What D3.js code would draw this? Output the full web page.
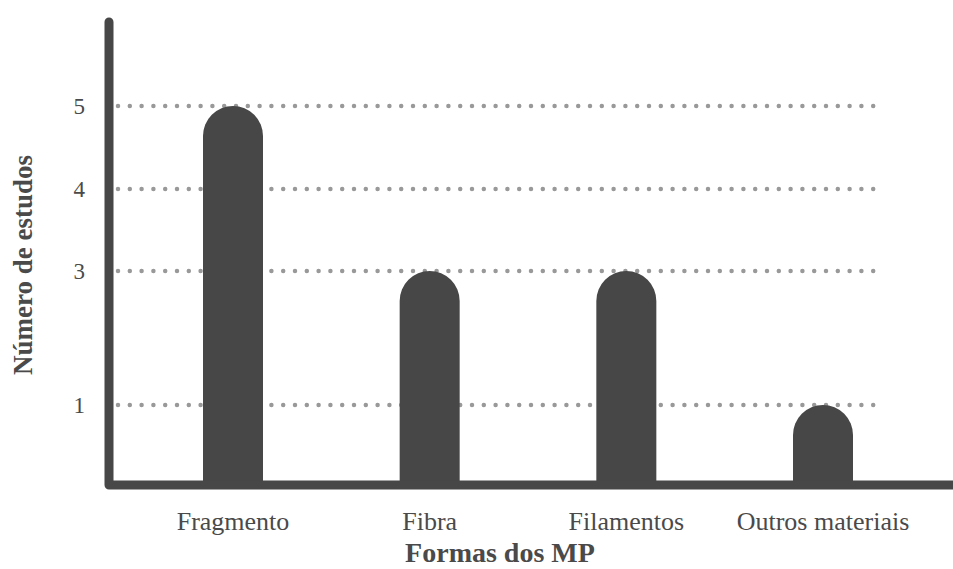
<!DOCTYPE html>
<html>
<head>
<meta charset="utf-8">
<script src="https://cdn.jsdelivr.net/npm/d3@7"></script>
<style>
  body { margin: 0; background: #fff; }
  text { font-family: "Liberation Serif", "Times New Roman", serif; fill: #4a4a4a; }
</style>
</head>
<body>
<div id="canvas"></div>
<script>
"use strict"

/* Chart data */
let categories = ["Fragmento", "Fibra", "Filamentos", "Outros materiais"];
let counts = [5, 3, 3, 1];
let tickValues = [1, 3, 4, 5];

/* Canvas size */
let svgWidth = 953;
let svgHeight = 569;

let barColor = "#474747";
let barWidth = 60;
let baseY = 485;

let svg = d3.select("#canvas")
    .append("svg")
    .attr("width", svgWidth)
    .attr("height", svgHeight);

/* The original axis is not evenly spaced: 1 is close to the base, 2 is skipped */
let yScale = d3.scaleLinear()
    .domain([0, 1, 3, 4, 5])
    .range([baseY, 405, 271, 189, 106]);

let xScale = d3.scalePoint()
    .domain(categories)
    .range([233, 823]);

/* Dotted gridlines */
svg.selectAll("line.grid")
    .data(tickValues)
    .join("line")
    .attr("class", "grid")
    .attr("x1", 118)
    .attr("x2", 882)
    .attr("y1", d => yScale(d))
    .attr("y2", d => yScale(d))
    .attr("stroke", "#999")
    .attr("stroke-width", 4.5)
    .attr("stroke-linecap", "round")
    .attr("stroke-dasharray", "0 11.8");

/* Tick labels */
svg.selectAll("text.tick")
    .data(tickValues)
    .join("text")
    .attr("class", "tick")
    .attr("x", 85)
    .attr("y", d => yScale(d))
    .attr("dy", "0.33em")
    .attr("text-anchor", "end")
    .style("font-size", "23px")
    .text(d => d);

/* Bars with rounded tops */
let bars = categories.map((c, i) => ({ name: c, value: counts[i] }));

svg.selectAll("path.bar")
    .data(bars)
    .join("path")
    .attr("class", "bar")
    .attr("fill", barColor)
    .attr("d", function (d) {
        let cx = xScale(d.name);
        let r = barWidth / 2;
        let top = yScale(d.value);
        return "M" + (cx - r) + "," + baseY +
            "V" + (top + r) +
            "A" + r + "," + r + " 0 0 1 " + (cx + r) + "," + (top + r) +
            "V" + baseY + "Z";
    });

/* Axis lines */
svg.append("path")
    .attr("d", "M109,22V485H953")
    .attr("fill", "none")
    .attr("stroke", barColor)
    .attr("stroke-width", 9)
    .attr("stroke-linecap", "round")
    .attr("stroke-linejoin", "round");

/* Category labels */
svg.selectAll("text.cat")
    .data(categories)
    .join("text")
    .attr("class", "cat")
    .attr("x", d => xScale(d))
    .attr("y", 530)
    .attr("text-anchor", "middle")
    .style("font-size", "26px")
    .text(d => d);

/* Axis titles */
svg.append("text")
    .attr("x", 500)
    .attr("y", 562)
    .attr("text-anchor", "middle")
    .style("font-size", "28px")
    .style("font-weight", "bold")
    .text("Formas dos MP");

svg.append("text")
    .attr("transform", "translate(32,265) rotate(-90)")
    .attr("text-anchor", "middle")
    .style("font-size", "27px")
    .style("font-weight", "bold")
    .text("Número de estudos");
</script>
</body>
</html>
